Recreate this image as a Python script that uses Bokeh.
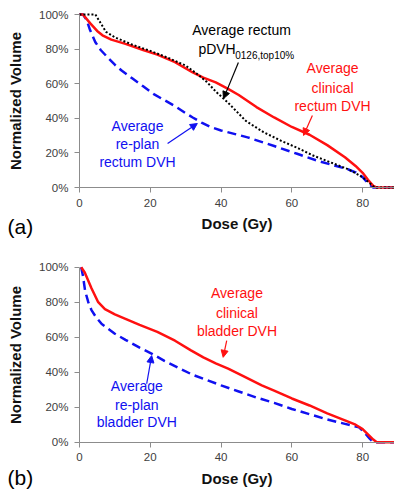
from bokeh.plotting import figure
from bokeh.layouts import column
from bokeh.models import Label, Arrow, NormalHead, PrintfTickFormatter, FixedTicker, Range1d
from bokeh.embed import file_html
from bokeh.resources import INLINE

# ---- data (dose in Gy, volume in %) ----
rect_clin_dose = [0, 1, 3, 5, 6.5, 9, 13, 18, 22, 27, 32, 35, 38.5, 42, 45, 50, 55, 60, 65, 70, 75, 78, 80, 81.5, 83, 84, 89]
rect_clin_vol = [100, 100, 95, 90.5, 88, 85.5, 83, 79.5, 76.8, 72.5, 66.5, 63.5, 60.8, 57, 53.5, 46.5, 40.5, 35, 30.5, 24.5, 17.5, 12.5, 8.5, 4.5, 1, 0, 0]

rect_pdvh_dose = [0, 4.5, 6, 7.5, 10, 15, 20, 25, 30, 33, 36, 38.5, 42, 47, 52, 57, 62, 66, 71, 76, 80, 82, 83.5, 89]
rect_pdvh_vol = [100, 100, 95, 90, 86.8, 82.5, 79, 75, 70.5, 66, 61, 55.5, 49, 38.5, 32, 27, 22.5, 18.5, 14.5, 10.5, 6, 2.5, 0, 0]

rect_replan_dose = [0, 1, 2, 3, 4.5, 6, 8.3, 10, 12, 15, 18, 21, 24, 27, 30, 32, 34.5, 37, 40, 47.5, 55, 61.5, 68, 75.5, 78, 80, 81.5, 83, 89]
rect_replan_vol = [100, 100, 97, 91, 84, 79.5, 74.5, 71, 67.5, 63, 58.5, 54, 50.5, 47, 43, 40.5, 37.5, 35, 33, 29, 24, 19.5, 15, 10.8, 8.8, 6, 2.5, 0, 0]

blad_clin_dose = [0.5, 1.5, 3.4, 5.3, 7.2, 10, 13, 17, 22, 27, 31.5, 35, 38.5, 42, 46, 51.5, 55, 60, 65, 70, 75, 78, 80, 81.5, 83, 84, 89]
blad_clin_vol = [100, 97, 88, 80, 76, 73, 70.5, 67, 63, 58, 52.5, 48.5, 45, 42, 38, 32.5, 29.5, 25, 21, 16.5, 12.5, 10, 7.5, 4.5, 1.5, 0, 0]

blad_replan_dose = [0.5, 1, 1.6, 2.5, 3.4, 4.5, 6.3, 8, 10, 13, 17, 20.5, 24, 28, 32, 36, 40, 45, 50, 55, 60, 65, 70, 75, 79, 80.5, 82, 83, 89]
blad_replan_vol = [100, 95, 86.5, 80, 75.5, 72, 67.5, 65, 62, 58.5, 54, 50.5, 46.5, 42.5, 38.5, 35.5, 32.5, 29, 25.5, 22.5, 19, 16, 13, 10.5, 8.5, 5.5, 2, 0, 0]

x_ticks = [0, 20, 40, 60, 80]
y_ticks = [0, 20, 40, 60, 80, 100]

FONT = "Liberation Sans"
RED = "#FF1010"
BLUE = "#1010F0"


def make_fig(height, x_range, y_range):
    p = figure(width=394, height=height, output_backend="svg", toolbar_location=None,
               x_range=Range1d(*x_range), y_range=Range1d(*y_range), min_border=0)
    p.outline_line_color = None
    p.grid.visible = False
    p.background_fill_color = "white"
    p.border_fill_color = "white"
    for ax in (p.xaxis[0], p.yaxis[0]):
        ax.fixed_location = 0
        ax.axis_line_color = "#8c8c8c"
        ax.major_tick_line_color = "#8c8c8c"
        ax.major_tick_out = 5
        ax.major_tick_in = 0
        ax.minor_tick_line_color = None
        ax.major_label_text_font = FONT
        ax.major_label_text_font_size = "11.5px"
        ax.major_label_text_color = "#404040"
        ax.axis_label_text_font = FONT
        ax.axis_label_text_font_size = "15px"
        ax.axis_label_text_font_style = "bold"
        ax.axis_label_text_color = "#111111"
    p.xaxis.bounds = (0, 89)
    p.yaxis.bounds = (0, 100)
    p.xaxis.ticker = FixedTicker(ticks=x_ticks)
    p.yaxis.ticker = FixedTicker(ticks=y_ticks)
    p.yaxis.formatter = PrintfTickFormatter(format="%d%%")
    p.xaxis.axis_label = "Dose (Gy)"
    p.yaxis.axis_label = "Normalized Volume"
    p.xaxis.major_label_standoff = 6
    p.yaxis.major_label_standoff = 6
    p.xaxis.axis_label_standoff = 5
    p.yaxis.axis_label_standoff = 12
    return p


def add_label(p, x, y, text, color, size="14px", align="center"):
    p.add_layout(Label(x=x, y=y, text=text, text_color=color, text_font=FONT,
                       text_font_size=size, text_align=align, text_baseline="middle"))


def add_arrow(p, x0, y0, x1, y1, color):
    p.add_layout(Arrow(end=NormalHead(size=7, fill_color=color, line_color=color, line_width=1),
                       x_start=x0, y_start=y0, x_end=x1, y_end=y1,
                       line_color=color, line_width=1.2))


# ---- panel (a): rectum ----
pa = make_fig(245, (-22.3, 89.0), (-33.5, 108.1))
pa.line(rect_replan_dose, rect_replan_vol, line_color=BLUE, line_width=2.5, line_dash="9 5")
pa.line(rect_clin_dose, rect_clin_vol, line_color=RED, line_width=2.5)
pa.line(rect_pdvh_dose, rect_pdvh_vol, line_color="black", line_width=2, line_dash="2 2")

add_label(pa, 45.8, 90.8, "Average rectum", "black")
add_label(pa, 33.6, 79.8, "pDVH", "black", align="left")
add_label(pa, 44.0, 76.6, "0126,top10%", "black", size="10px", align="left")
add_arrow(pa, 44.9, 72.3, 40.7, 51.4, "black")

add_label(pa, 71.5, 68.8, "Average", RED)
add_label(pa, 71.5, 57.8, "clinical", RED)
add_label(pa, 71.5, 47.4, "rectum DVH", RED)
add_arrow(pa, 65.8, 41.6, 63.3, 30.1, RED)

add_label(pa, 16.4, 35.8, "Average", BLUE)
add_label(pa, 16.4, 25.4, "re-plan", BLUE)
add_label(pa, 16.4, 14.5, "rectum DVH", BLUE)
add_arrow(pa, 24.9, 25.4, 33.3, 37.0, BLUE)

add_label(pa, -20.3, -22.5, "(a)", "black", size="21px", align="left")

# ---- panel (b): bladder ----
pb = make_fig(248, (-22.3, 89.0), (-29.3, 112.4))
pb.line(blad_replan_dose, blad_replan_vol, line_color=BLUE, line_width=2.5, line_dash="9 5")
pb.line(blad_clin_dose, blad_clin_vol, line_color=RED, line_width=2.5)

add_label(pb, 44.5, 85.0, "Average", RED)
add_label(pb, 44.5, 74.1, "clinical", RED)
add_label(pb, 44.5, 63.8, "bladder DVH", RED)
add_arrow(pb, 41.6, 58.1, 40.6, 48.5, RED)

add_label(pb, 16.2, 32.4, "Average", BLUE)
add_label(pb, 16.2, 21.5, "re-plan", BLUE)
add_label(pb, 16.2, 11.6, "bladder DVH", BLUE)
add_arrow(pb, 19.0, 33.4, 20.4, 49.5, BLUE)

add_label(pb, -20.3, -20.2, "(b)", "black", size="21px", align="left")

layout = column(pa, pb, spacing=0)
open("out.html", "w").write(file_html(layout, INLINE))
